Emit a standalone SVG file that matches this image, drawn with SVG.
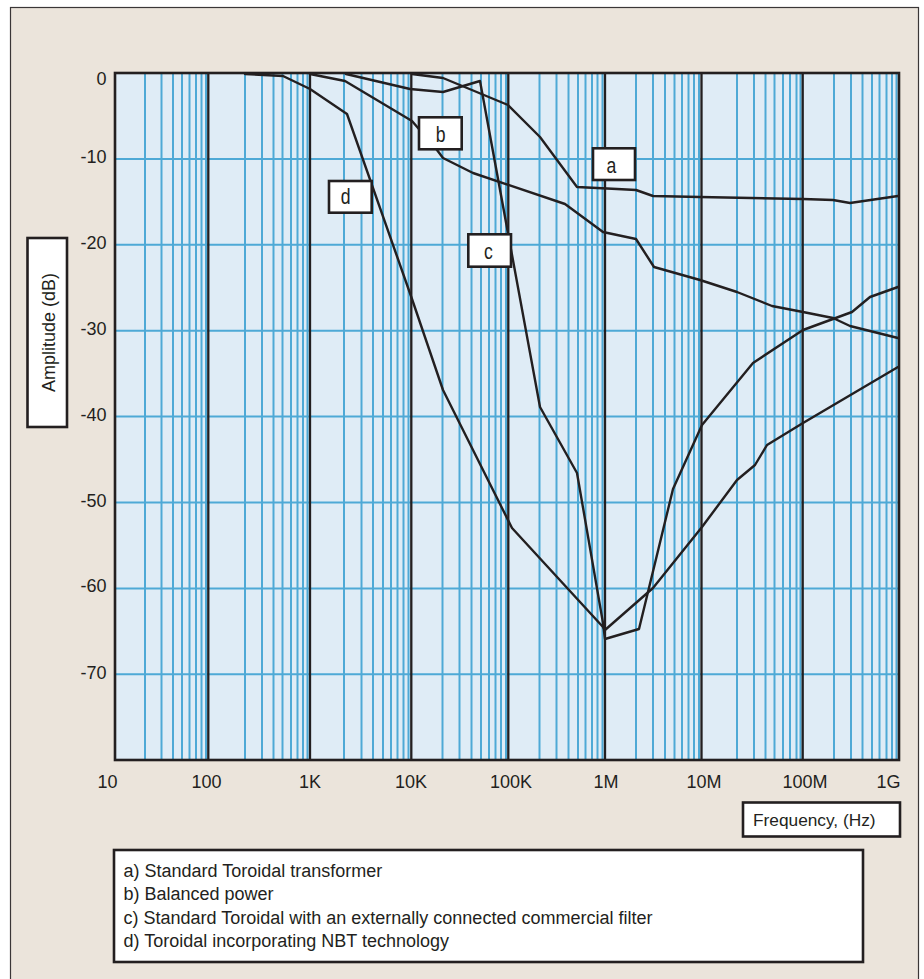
<svg xmlns="http://www.w3.org/2000/svg" width="924" height="979" viewBox="0 0 924 979">
<style>
.txt{font-family:"Liberation Sans",Arial,sans-serif;font-size:18px;fill:#231f20}
.lbl{font-family:"Liberation Sans",Arial,sans-serif;font-size:22px;fill:#231f20}
.minor{stroke:#4ea9d6;stroke-width:2;fill:none}
.major{stroke:#231f20;stroke-width:2.3;fill:none}
.curve{stroke:#231f20;stroke-width:2.4;fill:none;stroke-linejoin:round;stroke-linecap:round}
.box{fill:#ffffff;stroke:#231f20;stroke-width:2.6}
</style>
<rect x="0" y="0" width="924" height="979" fill="#ffffff"/>
<rect x="10.5" y="7.5" width="908" height="980" fill="#ebe4db" stroke="#3a3637" stroke-width="1.2"/>
<g id="plot">
<rect x="115" y="73" width="784" height="687" fill="#dfecf6"/>
<g class="minor">
<path d="M115 158.9H899M115 244.8H899M115 330.7H899M115 416.6H899M115 502.5H899M115 588.4H899M115 674.3H899"/>
<path d="M145 73V760M161.5 73V760M173 73V760M182 73V760M189.5 73V760M196 73V760M201.5 73V760M206 73V760"/>
<path d="M245 73V760M262 73V760M273.5 73V760M282.5 73V760M291 73V760M297.5 73V760M303 73V760M307.5 73V760"/>
<path d="M344 73V760M361.5 73V760M373 73V760M383 73V760M391 73V760M397.5 73V760M403.5 73V760M408.5 73V760"/>
<path d="M442.5 73V760M459.5 73V760M471.5 73V760M481 73V760M489 73V760M495.5 73V760M501 73V760M506 73V760"/>
<path d="M539.5 73V760M556.5 73V760M568.5 73V760M578 73V760M585.5 73V760M592 73V760M597.5 73V760M602.5 73V760"/>
<path d="M636 73V760M653 73V760M665 73V760M674.5 73V760M682 73V760M688.5 73V760M694 73V760M699 73V760"/>
<path d="M737 73V760M754 73V760M765.5 73V760M774.5 73V760M783 73V760M790 73V760M796.5 73V760M800.5 73V760"/>
<path d="M834 73V760M851 73V760M862.5 73V760M872 73V760M879.5 73V760M886.5 73V760M892 73V760M896.5 73V760"/>
</g>
<path class="major" d="M208.3 73V760M310 73V760M411.3 73V760M508.3 73V760M605 73V760M701.5 73V760M802.7 73V760"/>
<rect x="115" y="73" width="784" height="687" fill="none" stroke="#231f20" stroke-width="2.6"/>
</g>
<g id="connectors">
<polyline id="curve-a" class="curve" points="412,74 443,78 508,105 540,137 577,187 617,189 636,190 653,196 700,197 803,199 833,200 850,203 898,196"/>
<polyline id="curve-b" class="curve" points="310,74 345,81 412,121 437,150 443,158 473,173 565,204 603,232 636,239 654,267 700,280 737,292 772,306 803,312 833,318 850,326 898,338"/>
<polyline id="curve-c" class="curve" points="346,74 410,89 443,92 480,81 540,407 577,473 603,623 605,639 639,629 673,489 702,425 753,363 803,330 852,312 870,297 898,287"/>
<polyline id="curve-d" class="curve" points="245,74 283,76 310,89 347,114 412,299 443,390 512,528 603,627 605,630 653,588 702,527 737,480 755,465 767,445 803,423 898,367"/>
</g>
<g id="label-a">
<rect class="box" x="593" y="148.3" width="42" height="31.7"/>
<text class="lbl" transform="translate(611.5,173) scale(0.8,1)" text-anchor="middle">a</text>
</g>
<g id="label-b">
<rect class="box" x="419" y="117.3" width="42.7" height="32"/>
<text class="lbl" transform="translate(440.7,141.5) scale(0.8,1)" text-anchor="middle">b</text>
</g>
<g id="label-c">
<rect class="box" x="468.3" y="234.3" width="42.7" height="32.4"/>
<text class="lbl" transform="translate(488.5,259) scale(0.8,1)" text-anchor="middle">c</text>
</g>
<g id="label-d">
<rect class="box" x="329" y="181" width="42.7" height="31.7"/>
<text class="lbl" transform="translate(345.7,204) scale(0.8,1)" text-anchor="middle">d</text>
</g>
<g id="y-axis">
<g class="txt" text-anchor="end">
<text x="106.5" y="85">0</text>
<text x="106.5" y="163.4">-10</text>
<text x="106.5" y="249.3">-20</text>
<text x="106.5" y="335.2">-30</text>
<text x="106.5" y="420.5">-40</text>
<text x="106.5" y="506.5">-50</text>
<text x="106.5" y="592.3">-60</text>
<text x="106.5" y="678.5">-70</text>
</g>
<g id="y-title">
<rect x="27.5" y="238" width="39.5" height="189" fill="#ffffff" stroke="#231f20" stroke-width="2.6"/>
<text class="txt" transform="translate(55,332.5) rotate(-90)" text-anchor="middle">Amplitude (dB)</text>
</g>
</g>
<g id="x-axis">
<g class="txt" text-anchor="middle">
<text x="107.5" y="788">10</text>
<text x="206.5" y="788">100</text>
<text x="310" y="788">1K</text>
<text x="411" y="788">10K</text>
<text x="511" y="788">100K</text>
<text x="606" y="788">1M</text>
<text x="704" y="788">10M</text>
<text x="805" y="788">100M</text>
<text x="888.5" y="788">1G</text>
</g>
<g id="x-title">
<rect x="743" y="802.5" width="157" height="34" fill="#ffffff" stroke="#231f20" stroke-width="2.6"/>
<text class="txt" x="753" y="826" style="font-size:17.3px">Frequency, (Hz)</text>
</g>
</g>
<g id="legend">
<rect x="114" y="850" width="749" height="112" fill="#ffffff" stroke="#231f20" stroke-width="2.6"/>
<g class="txt">
<text x="123.5" y="877">a) Standard Toroidal transformer</text>
<text x="123.5" y="900.3">b) Balanced power</text>
<text x="123.5" y="923.6">c) Standard Toroidal with an externally connected commercial filter</text>
<text x="123.5" y="947">d) Toroidal incorporating NBT technology</text>
</g>
</g>
</svg>
